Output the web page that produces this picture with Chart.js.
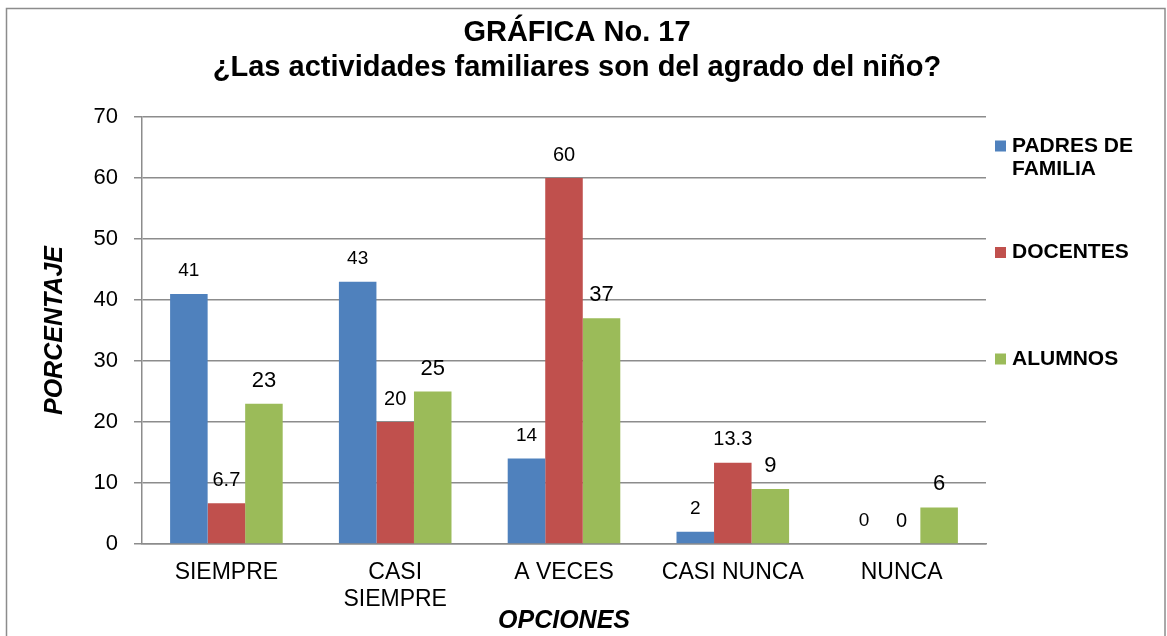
<!DOCTYPE html>
<html>
<head>
<meta charset="utf-8">
<script src="https://cdn.jsdelivr.net/npm/chart.js@4/dist/chart.umd.min.js"></script>
<style>
  html, body { margin: 0; padding: 0; background: #ffffff; }
  #wrap { width: 1167px; height: 636px; position: relative; }
</style>
</head>
<body>
<div id="wrap"><canvas id="c" width="1167" height="636"></canvas></div>
<script>
const titleLines = ['GRÁFICA No. 17', '¿Las actividades familiares son del agrado del niño?'];
const categories = ['SIEMPRE', ['CASI', 'SIEMPRE'], 'A VECES', 'CASI NUNCA', 'NUNCA'];
const seriesNames = ['PADRES DE FAMILIA', 'DOCENTES', 'ALUMNOS'];
const legendLines = [['PADRES DE', 'FAMILIA'], ['DOCENTES'], ['ALUMNOS']];
const padresValues = [41, 43, 14, 2, 0];
const docentesValues = [6.7, 20, 60, 13.3, 0];
const alumnosValues = [23, 25, 37, 9, 6];
const yTicks = [0, 10, 20, 30, 40, 50, 60, 70];
const yTitle = 'PORCENTAJE';
const xTitle = 'OPCIONES';

const colors = ['#4F81BD', '#C0504D', '#9BBB59'];
const labelSizes = [19, 20, 22];
const FONT = "'Liberation Sans', Arial, sans-serif";
const GRID = '#8c8c8c';

const frame = {
  id: 'frame',
  beforeDraw(chart) {
    const ctx = chart.ctx;
    ctx.save();
    ctx.fillStyle = '#ffffff';
    ctx.fillRect(0, 0, chart.width, chart.height);
    ctx.strokeStyle = '#8c8c8c';
    ctx.lineWidth = 1.5;
    ctx.strokeRect(6.5, 8.5, 1158.5, 660);
    ctx.restore();
  }
};

const centeredTitle = {
  id: 'centeredTitle',
  afterDraw(chart) {
    const ctx = chart.ctx;
    ctx.save();
    ctx.textAlign = 'center';
    ctx.textBaseline = 'middle';
    ctx.fillStyle = '#000000';
    ctx.font = 'bold 29px ' + FONT;
    titleLines.forEach((t, k) => ctx.fillText(t, 577, 33 + k * 35));
    ctx.restore();
  }
};

const valueLabels = {
  id: 'valueLabels',
  afterDatasetsDraw(chart) {
    const ctx = chart.ctx;
    ctx.save();
    ctx.textAlign = 'center';
    ctx.textBaseline = 'middle';
    ctx.fillStyle = '#000000';
    chart.data.datasets.forEach((ds, i) => {
      const meta = chart.getDatasetMeta(i);
      ctx.font = labelSizes[i] + 'px ' + FONT;
      meta.data.forEach((bar, j) => {
        ctx.fillText(String(ds.data[j]), bar.x, bar.y - 23);
      });
    });
    ctx.restore();
  }
};

const sideLegend = {
  id: 'sideLegend',
  afterDraw(chart) {
    const ctx = chart.ctx;
    ctx.save();
    ctx.textAlign = 'left';
    ctx.textBaseline = 'middle';
    ctx.font = 'bold 21px ' + FONT;
    ctx.fillStyle = '#000000';
    const x0 = 995, startY = 146, step = 106.5, lh = 23.5;
    chart.data.datasets.forEach((ds, i) => {
      const y = startY + i * step;
      ctx.fillStyle = ds.backgroundColor;
      ctx.fillRect(x0, y - 5.5, 11, 11);
      ctx.fillStyle = '#000000';
      legendLines[i].forEach((t, k) => ctx.fillText(t, x0 + 17, y + k * lh));
    });
    ctx.restore();
  }
};

new Chart(document.getElementById('c'), {
  type: 'bar',
  data: {
    labels: categories,
    datasets: [
      { label: seriesNames[0], data: padresValues, backgroundColor: colors[0] },
      { label: seriesNames[1], data: docentesValues, backgroundColor: colors[1] },
      { label: seriesNames[2], data: alumnosValues, backgroundColor: colors[2] }
    ]
  },
  options: {
    responsive: false,
    animation: false,
    devicePixelRatio: 1,
    layout: { padding: { left: 0, right: 181, top: 0, bottom: 0 } },
    datasets: { bar: { barPercentage: 1.0, categoryPercentage: 0.667 } },
    plugins: {
      legend: { display: false },
      tooltip: { enabled: false },
      title: {
        display: true,
        text: titleLines,
        color: 'rgba(0,0,0,0)',
        font: { family: FONT, size: 28, weight: 'bold', lineHeight: 1.25 },
        padding: { top: 15.5, bottom: 31.5 }
      }
    },
    scales: {
      x: {
        grid: { display: false, drawTicks: false },
        border: { display: true, color: GRID, width: 1.5 },
        ticks: {
          color: '#000000',
          font: { family: FONT, size: 23, lineHeight: 1.17 },
          padding: 15,
          maxRotation: 0,
          autoSkip: false
        },
        title: {
          display: true,
          text: xTitle,
          color: '#000000',
          font: { family: FONT, size: 25, weight: 'bold', style: 'italic', lineHeight: 1.2 },
          padding: { top: 0, bottom: 0 }
        },
        afterFit(scale) { scale.height = 92; }
      },
      y: {
        min: 0,
        max: 70,
        afterBuildTicks(scale) { scale.ticks = yTicks.map(v => ({ value: v })); },
        grid: { color: GRID, lineWidth: 1.5, drawTicks: true, tickLength: 8, tickColor: GRID },
        border: { display: true, color: GRID, width: 1.5 },
        ticks: {
          color: '#000000',
          font: { family: FONT, size: 22 },
          padding: 16
        },
        title: {
          display: true,
          text: yTitle,
          color: '#000000',
          font: { family: FONT, size: 25, weight: 'bold', style: 'italic', lineHeight: 1.2 },
          padding: { top: 40, bottom: 0 }
        },
        afterFit(scale) { scale.width = 142; }
      }
    }
  },
  plugins: [frame, valueLabels, sideLegend, centeredTitle]
});
</script>
</body>
</html>
